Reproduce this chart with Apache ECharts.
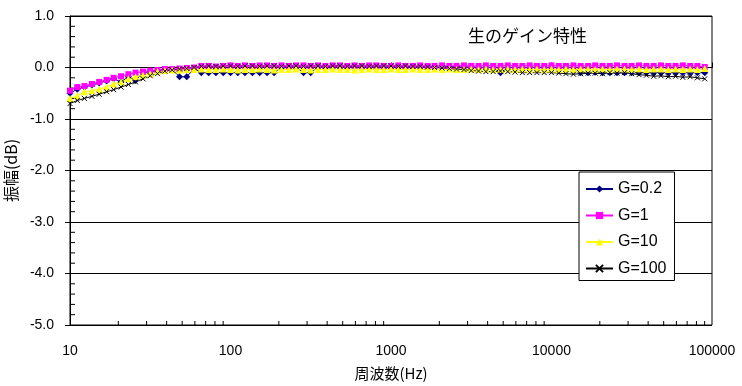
<!DOCTYPE html>
<html>
<head>
<meta charset="utf-8">
<script src="https://cdn.jsdelivr.net/npm/echarts@6/dist/echarts.min.js"></script>
<style>html,body{margin:0;padding:0;background:#fff;}#c{width:742px;height:386px;}</style>
</head>
<body>
<div id="c"></div>
<script>
var freq = [
  10, 11.1, 12.3, 13.7, 15.2, 16.9, 18.7, 20.8, 23.1, 25.6, 28.5, 31.6, 35.1, 39.0, 43.3, 48.1, 53.4, 59.3, 65.8, 73.1, 81.1, 90.1,
  100, 111, 123, 137, 152, 169, 187, 208, 231, 256, 285, 316, 351, 390, 433, 481, 534, 593, 658, 731, 811, 901,
  1000, 1110, 1230, 1370, 1520, 1690, 1870, 2080, 2310, 2560, 2850, 3160, 3510, 3900, 4330, 4810, 5340, 5930, 6580, 7310, 8110, 9010,
  10000, 11100, 12300, 13700, 15200, 16900, 18700, 20800, 23100, 25600, 28500, 31600, 35100, 39000, 43300, 48100, 53400, 59300, 65800, 73100, 81100, 90100
];
var g02 = [
  -0.50,-0.42,-0.38,-0.34,-0.30,-0.26,-0.22,-0.28,-0.18,-0.25,-0.10,-0.08,-0.06,-0.05,-0.04,-0.18,-0.18,-0.02,-0.10,-0.10,-0.10,-0.10,
  -0.10,-0.10,-0.10,-0.10,-0.10,-0.10,-0.10,0.00,0.01,0.01,-0.10,-0.10,0.01,0.01,0.02,0.01,0.01,0.02,0.01,0.01,0.02,0.01,
  0.01,0.02,0.01,0.01,0.02,0.01,0.01,0.01,0.02,0.01,0.01,0.01,0.00,0.00,0.00,-0.10,0.00,0.00,0.00,0.00,0.00,0.00,
  0.00,0.00,0.00,0.00,-0.10,-0.10,-0.09,-0.10,-0.10,-0.10,-0.10,-0.10,-0.10,-0.10,-0.10,-0.10,-0.10,-0.10,-0.10,-0.10,-0.10,-0.10
];
var g1 = [
  -0.45,-0.38,-0.36,-0.32,-0.28,-0.24,-0.20,-0.17,-0.13,-0.10,-0.08,-0.06,-0.05,-0.03,-0.03,-0.02,-0.01,0.00,0.03,0.03,0.02,0.03,
  0.04,0.03,0.04,0.03,0.04,0.04,0.03,0.04,0.03,0.04,0.04,0.03,0.04,0.03,0.04,0.04,0.03,0.04,0.03,0.04,0.04,0.03,
  0.03,0.04,0.03,0.03,0.04,0.03,0.03,0.04,0.03,0.03,0.04,0.03,0.03,0.04,0.03,0.03,0.04,0.03,0.03,0.04,0.03,0.03,
  0.04,0.03,0.03,0.04,0.03,0.03,0.04,0.03,0.03,0.04,0.03,0.03,0.04,0.03,0.03,0.04,0.03,0.03,0.04,0.03,0.03,0.01
];
var g10 = [
  -0.60,-0.55,-0.47,-0.45,-0.42,-0.38,-0.32,-0.28,-0.22,-0.18,-0.15,-0.12,-0.08,-0.06,-0.05,-0.05,-0.04,-0.04,-0.03,-0.04,-0.04,-0.03,
  -0.04,-0.05,-0.04,-0.04,-0.03,-0.04,-0.05,-0.04,-0.04,-0.03,-0.04,-0.05,-0.04,-0.04,-0.03,-0.04,-0.04,-0.05,-0.04,-0.03,-0.04,-0.04,
  -0.03,-0.04,-0.04,-0.03,-0.04,-0.04,-0.03,-0.04,-0.03,-0.04,-0.04,-0.03,-0.04,-0.03,-0.04,-0.04,-0.03,-0.04,-0.03,-0.04,-0.03,-0.04,
  -0.03,-0.04,-0.03,-0.04,-0.03,-0.03,-0.04,-0.03,-0.04,-0.03,-0.03,-0.04,-0.03,-0.04,-0.03,-0.03,-0.04,-0.03,-0.04,-0.03,-0.04,-0.02
];
var g100 = [
  -0.70,-0.64,-0.60,-0.56,-0.52,-0.47,-0.43,-0.38,-0.33,-0.28,-0.22,-0.16,-0.12,-0.07,-0.05,-0.03,-0.02,0.00,0.02,0.03,0.02,0.03,
  0.03,0.02,0.03,0.03,0.02,0.03,0.03,0.02,0.03,0.03,0.02,0.03,0.03,0.02,0.03,0.03,0.02,0.03,0.03,0.02,0.03,0.03,
  0.03,0.02,0.03,0.02,0.02,0.01,0.00,-0.01,-0.02,-0.03,-0.04,-0.06,-0.07,-0.08,-0.08,-0.07,-0.08,-0.09,-0.10,-0.10,-0.10,-0.10,
  -0.10,-0.11,-0.12,-0.13,-0.12,-0.11,-0.11,-0.12,-0.10,-0.11,-0.10,-0.12,-0.14,-0.15,-0.17,-0.16,-0.18,-0.17,-0.19,-0.18,-0.20,-0.22
];
var seriesNames = ['G=0.2', 'G=1', 'G=10', 'G=100'];
var xTickLabels = ['10', '100', '1000', '10000', '100000'];
var xMinorTicks = [20,30,40,50,60,70,80,90,200,300,400,500,600,700,800,900,2000,3000,4000,5000,6000,7000,8000,9000,20000,30000,40000,50000,60000,70000,80000,90000];
var yMinorTicks = [-4.8,-4.6,-4.4,-4.2,-3.8,-3.6,-3.4,-3.2,-2.8,-2.6,-2.4,-2.2,-1.8,-1.6,-1.4,-1.2,-0.8,-0.6,-0.4,-0.2,0.2,0.4,0.6,0.8];
var chartTitle = '生のゲイン特性';

function pairs(ys) { return freq.map(function (f, i) { return [f, ys[i]]; }); }

var FONT = '"Liberation Sans", "Noto Sans CJK JP", sans-serif';
var JP = '"Noto Sans CJK JP", sans-serif';
var chart = echarts.init(document.getElementById('c'), null, { renderer: 'canvas' });
chart.setOption({
  animation: false,
  backgroundColor: '#ffffff',
  textStyle: { fontFamily: FONT },
  title: {
    text: chartTitle, left: 468, top: 27, padding: 0,
    textStyle: { fontSize: 17, fontWeight: 'normal', color: '#000', fontFamily: JP }
  },
  grid: { left: 70, right: 30, top: 16, bottom: 61, show: true, borderColor: '#000', borderWidth: 1, containLabel: false, outerBoundsMode: 'none' },
  legend: {
    orient: 'vertical', left: 579, top: 172,
    backgroundColor: '#fff', borderColor: '#000', borderWidth: 1,
    padding: [9, 8, 4, 6], itemGap: 10.5, itemWidth: 27, itemHeight: 9,
    data: seriesNames,
    textStyle: { fontSize: 16, color: '#000', fontFamily: FONT }
  },
  xAxis: {
    type: 'log', logBase: 10, min: 10, max: 100000,
    name: '周波数(Hz)', nameLocation: 'middle', nameGap: 41,
    nameTextStyle: { fontSize: 15, color: '#000', fontFamily: JP },
    axisLine: { lineStyle: { color: '#000', width: 1 } },
    axisTick: { show: true, inside: true, length: 5, lineStyle: { color: '#000' } },
    axisLabel: { color: '#000', fontSize: 14, margin: 19, formatter: function (v) { var s = String(Math.round(v)); return xTickLabels.indexOf(s) >= 0 ? s : ''; } },
    splitLine: { show: false }
  },
  yAxis: {
    type: 'value', min: -5, max: 1, interval: 1,
    name: '振幅(dB)', nameLocation: 'middle', nameGap: 44, nameRotate: 90,
    nameTextStyle: { fontSize: 16, color: '#000', fontFamily: JP },
    axisLine: { show: true, lineStyle: { color: '#000', width: 1 } },
    axisTick: { show: true, inside: false, length: 5, lineStyle: { color: '#000' } },
    axisLabel: { color: '#000', fontSize: 14, margin: 16, formatter: function (v) { return v.toFixed(1); } },
    splitLine: { show: true, lineStyle: { color: '#000', width: 1 } }
  },
  series: [
    {
      name: seriesNames[0], type: 'line', data: pairs(g02),
      symbol: 'diamond', symbolSize: 7, showSymbol: true,
      itemStyle: { color: '#000080' }, lineStyle: { color: '#000080', width: 1 }
    },
    {
      name: seriesNames[1], type: 'line', data: pairs(g1),
      symbol: 'rect', symbolSize: 6,
      itemStyle: { color: '#ff00ff' }, lineStyle: { color: '#ff00ff', width: 1 }
    },
    {
      name: seriesNames[2], type: 'line', data: pairs(g10),
      symbol: 'triangle', symbolSize: 7,
      itemStyle: { color: '#ffff00' }, lineStyle: { color: '#ffff00', width: 1 }
    },
    {
      name: seriesNames[3], type: 'line', data: pairs(g100),
      symbol: 'path://M0,0L10,10M0,10L10,0', symbolSize: 5,
      itemStyle: { color: 'none', borderColor: '#000', borderWidth: 1 },
      lineStyle: { color: '#000', width: 1 }
    },
    {
      type: 'custom', silent: true, data: xMinorTicks.map(function (f) { return [f, -5]; }),
      renderItem: function (params, api) {
        var p = api.coord([api.value(0), api.value(1)]);
        return { type: 'line', shape: { x1: p[0], y1: p[1], x2: p[0], y2: p[1] - 4 }, style: { stroke: '#000', lineWidth: 1 } };
      },
      z: 1
    },
    {
      type: 'custom', silent: true, data: yMinorTicks.map(function (v) { return [10, v]; }),
      renderItem: function (params, api) {
        var p = api.coord([api.value(0), api.value(1)]);
        return { type: 'line', shape: { x1: p[0], y1: p[1], x2: p[0] + 5, y2: p[1] }, style: { stroke: '#000', lineWidth: 1 } };
      },
      z: 1
    }
  ]
});
</script>
</body>
</html>
